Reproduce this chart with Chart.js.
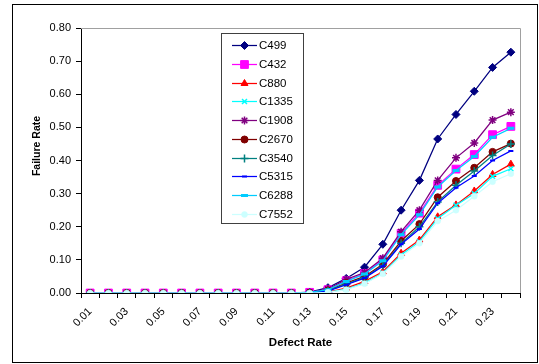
<!DOCTYPE html>
<html>
<head>
<meta charset="utf-8">
<script src="https://cdn.jsdelivr.net/npm/chart.js@4.4.0/dist/chart.umd.min.js"></script>
<style>
  body { margin: 0; background: #fff; }
  #wrap { width: 539px; height: 364px; }
</style>
</head>
<body>
<div id="wrap"><canvas id="chart"></canvas></div>
<script>
// Defect rate categories (x axis)
const defectRates = ['0.01', '0.02', '0.03', '0.04', '0.05', '0.06', '0.07', '0.08',
    '0.09', '0.10', '0.11', '0.12', '0.13', '0.14', '0.15', '0.16',
    '0.17', '0.18', '0.19', '0.20', '0.21', '0.22', '0.23', '0.24'];
const xTickLabels = ['0.01', '', '0.03', '', '0.05', '', '0.07', '', '0.09', '', '0.11', '',
    '0.13', '', '0.15', '', '0.17', '', '0.19', '', '0.21', '', '0.23', ''];
const yTickValues = [0, 0.1, 0.2, 0.3, 0.4, 0.5, 0.6, 0.7, 0.8];

// Failure rate per circuit
const c499  = [0, 0, 0, 0, 0, 0, 0, 0, 0, 0, 0, 0, 0.003, 0.016, 0.044, 0.078, 0.147, 0.250, 0.340, 0.465, 0.539, 0.609, 0.681, 0.727];
const c432  = [0, 0, 0, 0, 0, 0, 0, 0, 0, 0, 0, 0, 0.002, 0.010, 0.037, 0.059, 0.100, 0.180, 0.241, 0.325, 0.374, 0.418, 0.478, 0.503];
const c880  = [0, 0, 0, 0, 0, 0, 0, 0, 0, 0, 0, 0, 0, 0.003, 0.015, 0.035, 0.064, 0.120, 0.160, 0.230, 0.266, 0.308, 0.358, 0.389];
const c1335 = [0, 0, 0, 0, 0, 0, 0, 0, 0, 0, 0, 0, 0, 0.002, 0.012, 0.030, 0.060, 0.115, 0.155, 0.225, 0.265, 0.300, 0.352, 0.375];
const c1908 = [0, 0, 0, 0, 0, 0, 0, 0, 0, 0, 0, 0, 0.002, 0.012, 0.041, 0.062, 0.105, 0.185, 0.250, 0.340, 0.408, 0.453, 0.522, 0.546];
const c2670 = [0, 0, 0, 0, 0, 0, 0, 0, 0, 0, 0, 0, 0.001, 0.008, 0.030, 0.050, 0.087, 0.157, 0.208, 0.289, 0.338, 0.378, 0.426, 0.451];
const c3540 = [0, 0, 0, 0, 0, 0, 0, 0, 0, 0, 0, 0, 0.001, 0.007, 0.027, 0.047, 0.083, 0.150, 0.200, 0.275, 0.325, 0.368, 0.415, 0.450];
const c5315 = [0, 0, 0, 0, 0, 0, 0, 0, 0, 0, 0, 0, 0.001, 0.006, 0.025, 0.045, 0.081, 0.147, 0.193, 0.271, 0.318, 0.353, 0.400, 0.429];
const c6288 = [0, 0, 0, 0, 0, 0, 0, 0, 0, 0, 0, 0, 0.002, 0.010, 0.035, 0.057, 0.097, 0.176, 0.236, 0.320, 0.370, 0.412, 0.470, 0.497];
const c7552 = [0, 0, 0, 0, 0, 0, 0, 0, 0, 0, 0, 0, 0, 0.002, 0.010, 0.028, 0.058, 0.110, 0.150, 0.217, 0.250, 0.292, 0.336, 0.360];

const seriesNames = ['C499', 'C432', 'C880', 'C1335', 'C1908', 'C2670', 'C3540', 'C5315', 'C6288', 'C7552'];
const seriesValues = [c499, c432, c880, c1335, c1908, c2670, c3540, c5315, c6288, c7552];

// Excel-like marker styles
const seriesStyles = [
    { color: '#000080', point: 'rectRot', radius: 4, bw: 1 },
    { color: '#ff00ff', point: 'rect', radius: 5.5, bw: 1 },
    { color: '#ff0000', point: 'triangle', radius: 4, bw: 1 },
    { color: '#00ffff', point: 'crossRot', radius: 3.5, bw: 1.5 },
    { color: '#800080', point: 'star', radius: 4, bw: 1.5 },
    { color: '#800000', point: 'circle', radius: 3.5, bw: 1 },
    { color: '#008080', point: 'cross', radius: 4, bw: 1.5 },
    { color: '#0000ff', point: 'line', radius: 2.5, bw: 2 },
    { color: '#00ccff', point: 'line', radius: 3.5, bw: 3 },
    { color: '#ccffff', point: 'circle', radius: 3, bw: 0.5 }
];

const FONT = "'Liberation Sans', Arial, sans-serif";

const datasets = seriesNames.map((name, i) => ({
    label: name,
    data: seriesValues[i],
    borderColor: seriesStyles[i].color,
    backgroundColor: seriesStyles[i].color,
    borderWidth: 1.25,
    pointStyle: seriesStyles[i].point,
    pointRadius: seriesStyles[i].radius,
    pointBorderWidth: seriesStyles[i].bw,
    pointHoverRadius: seriesStyles[i].radius,
    tension: 0,
    // later series on top, like Excel
    order: seriesNames.length - 1 - i
}));

const framePlugin = {
    id: 'frame',
    beforeDraw(chart) {
        const ctx = chart.ctx;
        ctx.save();
        ctx.fillStyle = '#fff';
        ctx.fillRect(0, 0, chart.width, chart.height);
        ctx.restore();
    },
    beforeDatasetsDraw(chart) {
        const { ctx, chartArea: a } = chart;
        ctx.save();
        ctx.strokeStyle = '#a0a0a0';
        ctx.lineWidth = 1;
        ctx.beginPath();
        ctx.moveTo(a.left, Math.round(a.top) + 0.5);
        ctx.lineTo(Math.round(a.right) + 0.5, Math.round(a.top) + 0.5);
        ctx.lineTo(Math.round(a.right) + 0.5, a.bottom);
        ctx.stroke();
        ctx.restore();
    },
    afterDraw(chart) {
        const ctx = chart.ctx;
        ctx.save();

        // outer frame
        ctx.strokeStyle = '#000';
        ctx.lineWidth = 1;
        ctx.strokeRect(12.5, 4.5, 525, 358);

        // y axis title
        ctx.translate(37, 146);
        ctx.rotate(-Math.PI / 2);
        ctx.fillStyle = '#000';
        ctx.font = 'bold 10.5px ' + FONT;
        ctx.textAlign = 'center';
        ctx.textBaseline = 'middle';
        ctx.fillText('Failure Rate', 0, 0);
        ctx.setTransform(1, 0, 0, 1, 0, 0);

        // legend box
        ctx.strokeStyle = '#404040';
        ctx.strokeRect(221.5, 33.5, 82, 190);
        ctx.font = '11.5px ' + FONT;
        ctx.textAlign = 'left';
        ctx.textBaseline = 'middle';
        seriesNames.forEach((name, i) => {
            const st = seriesStyles[i];
            const y = Math.round(45.3 + i * 18.7) + 0.5;
            ctx.strokeStyle = st.color;
            ctx.fillStyle = st.color;
            ctx.lineWidth = 1.25;
            ctx.beginPath();
            ctx.moveTo(232, y);
            ctx.lineTo(257, y);
            ctx.stroke();
            ctx.lineWidth = st.bw;
            Chart.helpers.drawPoint(ctx, {
                pointStyle: st.point, radius: st.radius, rotation: 0, borderWidth: st.bw
            }, 244.5, y);
            ctx.fillStyle = '#000';
            ctx.fillText(name, 259, y);
        });
        ctx.restore();
    }
};

new Chart(document.getElementById('chart'), {
    type: 'line',
    data: { labels: defectRates, datasets: datasets },
    options: {
        responsive: true,
        maintainAspectRatio: false,
        animation: false,
        layout: { padding: { left: 0, top: 28, right: 19, bottom: 0 } },
        plugins: {
            legend: { display: false },
            tooltip: { enabled: false }
        },
        scales: {
            x: {
                offset: true,
                afterFit: (s) => { s.height = 71; },
                grid: { offset: true, drawOnChartArea: false, color: '#000', tickLength: 5 },
                border: { color: '#000', width: 1 },
                ticks: {
                    autoSkip: false,
                    minRotation: 45,
                    maxRotation: 45,
                    padding: 7,
                    color: '#000',
                    font: { family: FONT, size: 11 },
                    callback: (val, idx) => xTickLabels[idx]
                },
                title: {
                    display: true,
                    text: 'Defect Rate',
                    color: '#000',
                    font: { family: FONT, size: 11.5, weight: 'bold' },
                    padding: { top: 0, bottom: 14 }
                }
            },
            y: {
                min: 0,
                max: 0.8,
                afterFit: (s) => { s.width = 81; },
                afterBuildTicks: (s) => { s.ticks = yTickValues.map(v => ({ value: v })); },
                grid: { drawOnChartArea: false, color: '#000', tickLength: 5 },
                border: { color: '#000', width: 1 },
                ticks: {
                    padding: 5,
                    color: '#000',
                    font: { family: FONT, size: 11 },
                    callback: (v) => v.toFixed(2)
                }
            }
        }
    },
    plugins: [framePlugin]
});
</script>
</body>
</html>
